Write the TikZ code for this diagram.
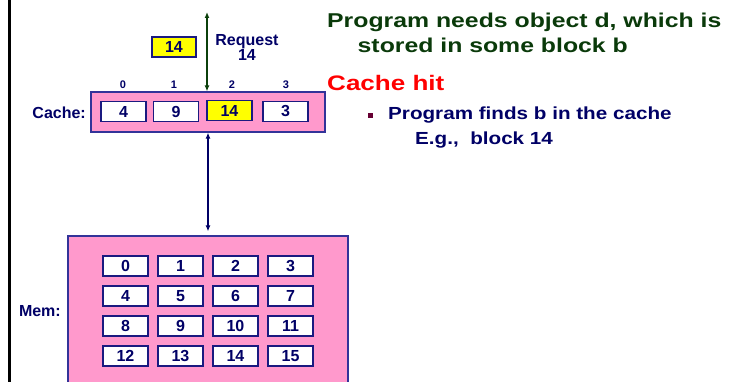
\documentclass[tikz,border=0pt]{standalone}
\usepackage{fontspec}
\setmainfont{Liberation Sans}
\newfontfamily\headfont{Liberation Sans}[FakeStretch=1.24]
\newfontfamily\subfont{Liberation Sans}[FakeStretch=1.18]
\usetikzlibrary{arrows.meta}
\definecolor{navy}{HTML}{000066}
\definecolor{boxblue}{HTML}{333399}
\definecolor{cellblue}{HTML}{1A1A80}
\definecolor{slidepink}{HTML}{FF99CC}
\definecolor{hityellow}{HTML}{FFFF00}
\definecolor{darkgreen}{HTML}{0A3A0A}
\definecolor{arrowgreen}{HTML}{0B400B}
\definecolor{hitred}{HTML}{FF0000}
\definecolor{maroon}{HTML}{660033}
\tikzset{
  pinkbox/.style={draw=boxblue, fill=slidepink, line width=1.2pt, inner sep=0pt},
  cell/.style={draw=cellblue, fill=white, line width=1.4pt, minimum width=45pt,
    minimum height=20pt, inner sep=0pt, text=navy,
    font=\bfseries\fontsize{16}{16}\selectfont},
  hitcell/.style={cell, fill=hityellow},
  lbl/.style={text=navy, inner sep=0pt, font=\bfseries\fontsize{16}{16}\selectfont},
  idx/.style={text=navy, inner sep=0pt, font=\bfseries\fontsize{11}{11}\selectfont},
  head/.style={anchor=base west, inner sep=0pt, font=\headfont\bfseries\fontsize{20}{20}\selectfont},
  sub/.style={anchor=base west, inner sep=0pt, text=navy, font=\subfont\bfseries\fontsize{17.5}{17.5}\selectfont},
  dbl/.style={{Latex[length=6pt,width=5pt]}-{Latex[length=6pt,width=5pt]}, line width=1.3pt},
}
\begin{document}
\begin{tikzpicture}[x=1pt,y=-1pt]
\useasboundingbox (0,0) rectangle (734,382);
\clip (0,0) rectangle (734,382);

% left margin rule
\draw[line width=3pt] (9,-2) -- (9,384);

% cache
\node[pinkbox, minimum width=234pt, minimum height=40pt] (cachebox) at (208,112) {};
\node[lbl, anchor=east] (cachelbl) at (86,113) {Cache:};
\node[cell] (c0) at (123.5,111.5) {4};
\node[cell] (c1) at (176,111.5) {9};
\node[hitcell] (c2) at (229.5,110.5) {14};
\node[cell] (c3) at (285.5,111.5) {3};
\node[idx] (i0) at (123,85) {0};
\node[idx] (i1) at (174,85) {1};
\node[idx] (i2) at (232,85) {2};
\node[idx] (i3) at (286,85) {3};

% request
\node[hitcell, minimum width=44pt] (req) at (174,47) {14};
\node[lbl, align=center] (reqlbl) at (247,47) {Request\\[-1pt]14};
\coordinate (reqtop) at (207,12);
\draw[dbl, draw=arrowgreen, fill=arrowgreen] (reqtop) -- (reqtop |- cachebox.north);

% memory
\node[pinkbox, minimum width=280pt, minimum height=170pt] (membox) at (208,321) {};
\node[lbl, anchor=east] (memlbl) at (61,311) {Mem:};
\foreach \r in {0,1,2,3}{
  \foreach \c in {0,1,2,3}{
    \pgfmathtruncatemacro{\n}{4*\r+\c}
    \node[cell] (m\n) at (125.5+55*\c,266+30*\r) {\n};
  }
}
\coordinate (busx) at (208,0);
\draw[dbl, draw=navy, fill=navy, shorten >=4pt] (busx |- cachebox.south) -- (busx |- membox.north);

% explanation text
\node[head, text=darkgreen] (t1) at (327,27.5) {Program needs object d, which is};
\node[head, text=darkgreen] (t2) at (357.5,53) {stored in some block b};
\node[head, text=hitred, font=\headfont\bfseries\fontsize{21}{21}\selectfont] (t3) at (327,90.5) {Cache hit};
\node[fill=maroon, minimum size=5pt, inner sep=0pt] (bul) at (370,116) {};
\node[sub] (t4) at (388,120) {Program finds b in the cache};
\node[sub] (t5) at (415,145) {E.g.,\ \ block 14};
\end{tikzpicture}
\end{document}
